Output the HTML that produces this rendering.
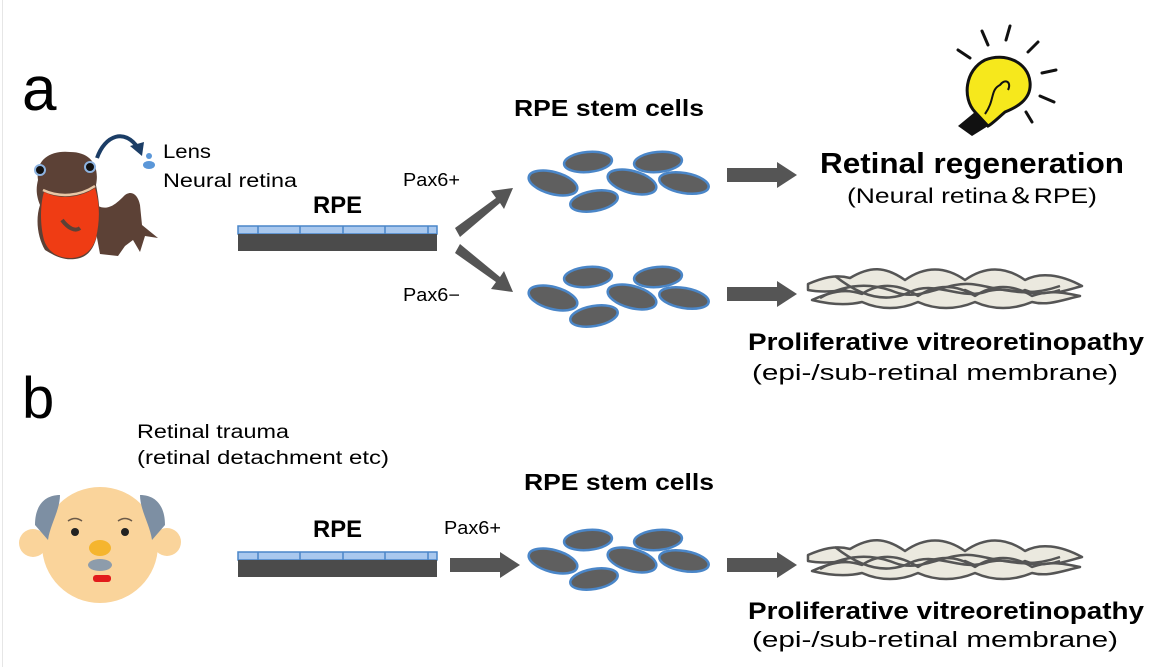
<!DOCTYPE html>
<html><head><meta charset="utf-8"><style>
body{margin:0;background:#fff;}
svg{display:block;font-family:"Liberation Sans","DejaVu Sans",sans-serif;}
</style></head><body>
<svg width="1169" height="667" viewBox="0 0 1169 667" xmlns="http://www.w3.org/2000/svg">
<defs>
<g id="cells" stroke="#4a86c8" stroke-width="2.5" fill="#5f5f5f">
<ellipse cx="588" cy="162" rx="24" ry="10" transform="rotate(-5 588 162)"/>
<ellipse cx="658" cy="162" rx="24" ry="10" transform="rotate(-5 658 162)"/>
<ellipse cx="553" cy="183" rx="25" ry="11" transform="rotate(15 553 183)"/>
<ellipse cx="632" cy="182" rx="25" ry="11" transform="rotate(15 632 182)"/>
<ellipse cx="684" cy="183" rx="25" ry="10" transform="rotate(10 684 183)"/>
<ellipse cx="594" cy="201" rx="24" ry="10" transform="rotate(-10 594 201)"/>
</g>
<g id="rpe">
<rect x="238" y="226" width="199" height="8" fill="#a9c8ee" stroke="#4a86c8" stroke-width="1.5"/>
<rect x="238" y="234" width="199" height="17" fill="#4b4b4b"/>
<g stroke="#4a86c8" stroke-width="1.5"><line x1="258" y1="226" x2="258" y2="234"/><line x1="300" y1="226" x2="300" y2="234"/><line x1="343" y1="226" x2="343" y2="234"/><line x1="385" y1="226" x2="385" y2="234"/><line x1="428" y1="226" x2="428" y2="234"/></g>
</g>
<g id="memb" fill="#ebe9df" stroke="#555" stroke-width="2.5" stroke-linejoin="round">
<path d="M808 284 C822 278 835 274 850 278 C870 266 885 266 905 280 C925 266 945 266 965 280 C985 266 1005 266 1025 280 C1040 272 1060 274 1082 286 C1060 292 1045 298 1025 290 C1005 300 985 300 965 290 C945 300 925 300 905 290 C885 298 865 298 845 290 C830 292 818 292 808 290 Z"/>
<path d="M812 300 C830 292 845 288 862 294 C880 282 900 284 918 296 C936 284 956 284 975 296 C993 284 1013 284 1032 296 C1048 290 1062 292 1080 296 C1062 300 1048 306 1032 302 C1013 310 993 310 975 302 C956 310 936 310 918 302 C900 310 880 310 862 302 C845 306 828 304 812 300 Z"/>
<path d="M835 276 C860 296 885 304 910 292 C935 280 960 300 985 292 C1010 284 1030 300 1060 290" fill="none"/>
<path d="M820 298 C845 284 870 282 895 292 C920 302 945 282 970 284 C995 286 1020 300 1060 286" fill="none"/>
</g>
<g id="arr"><polygon points="0,-7 50,-7 50,-13 70,0 50,13 50,7 0,7" fill="#555"/></g>
</defs>
<rect x="2" y="0" width="1" height="667" fill="#e6e6e6"/>
<!-- a -->
<text x="22" y="110" font-size="62">a</text>
<!-- newt -->
<path d="M90 200 C105 215 115 205 125 195 C132 190 138 195 140 205 L142 225 L158 238 L145 236 L140 252 L133 240 L125 246 L118 256 L100 254 Z" fill="#5c4136"/>
<path d="M38 180 C35 160 50 150 70 152 C90 152 100 165 96 185 C100 205 100 215 98 230 C96 245 90 255 80 258 C65 262 55 256 45 250 C38 238 35 220 40 205 C36 195 36 188 38 180 Z" fill="#5c4136"/>
<path d="M44 192 C60 200 80 198 95 188 C100 205 100 220 96 238 C92 252 82 258 70 258 C58 258 48 252 44 240 C40 225 40 205 44 192 Z" fill="#ef3c14"/>
<path d="M62 220 C68 228 75 232 80 228" fill="none" stroke="#5c4136" stroke-width="4"/>
<path d="M43 190 C60 198 80 196 95 186" fill="none" stroke="#e7c7a6" stroke-width="2.5"/>
<circle cx="40" cy="170" r="5" fill="#111" stroke="#8db3e0" stroke-width="2"/>
<circle cx="90" cy="167" r="5" fill="#111" stroke="#8db3e0" stroke-width="2"/>
<path d="M97 158 C105 135 125 128 138 148" fill="none" stroke="#1b3d66" stroke-width="4"/>
<polygon points="130,146 144,142 142,156" fill="#1b3d66"/>
<circle cx="149" cy="156" r="3" fill="#5b97d8"/>
<ellipse cx="149" cy="165" rx="6" ry="4" fill="#5b97d8"/>
<text x="163" y="158" font-size="19" textLength="48" lengthAdjust="spacingAndGlyphs">Lens</text>
<text x="163" y="187" font-size="19" textLength="134" lengthAdjust="spacingAndGlyphs">Neural retina</text>
<text x="313" y="213" font-size="24" font-weight="bold" textLength="49" lengthAdjust="spacingAndGlyphs">RPE</text>
<use href="#rpe"/>
<text x="403" y="186" font-size="18" textLength="57" lengthAdjust="spacingAndGlyphs">Pax6+</text>
<text x="403" y="301" font-size="18" textLength="57" lengthAdjust="spacingAndGlyphs">Pax6−</text>
<text x="514" y="116" font-size="23" font-weight="bold" textLength="190" lengthAdjust="spacingAndGlyphs">RPE stem cells</text>
<polygon points="455,228 496,198 491,191 513,188 504,209 500,203 460,237" fill="#555"/>
<polygon points="460,244 500,277 504,271 513,292 491,289 496,282 455,253" fill="#555"/>
<use href="#cells"/>
<use href="#cells" transform="translate(0 115)"/>
<use href="#arr" transform="translate(727 175)"/>
<use href="#arr" transform="translate(727 294)"/>
<!-- bulb -->
<g stroke="#111" stroke-width="3" stroke-linecap="round" fill="none">
<line x1="982" y1="31" x2="988" y2="45"/><line x1="1010" y1="26" x2="1006" y2="40"/><line x1="1028" y1="52" x2="1038" y2="42"/><line x1="958" y1="50" x2="970" y2="58"/><line x1="1042" y1="73" x2="1056" y2="70"/><line x1="1040" y1="96" x2="1054" y2="102"/><line x1="1026" y1="112" x2="1032" y2="122"/>
</g>
<path d="M975 112 C962 98 965 70 985 60 C1005 52 1028 62 1030 82 C1032 100 1015 108 1005 112 C998 118 992 124 988 126 Z" fill="#f6e81c" stroke="#111" stroke-width="3"/>
<path d="M975 112 L988 126 L972 136 L958 126 Z" fill="#111"/>
<path d="M985 114 C995 100 990 90 1000 85 C1005 78 1012 82 1008 90" fill="none" stroke="#111" stroke-width="2"/>
<text x="820" y="173" font-size="29" font-weight="bold" textLength="304" lengthAdjust="spacingAndGlyphs">Retinal regeneration</text>
<text x="847" y="203" font-size="21" textLength="250" lengthAdjust="spacingAndGlyphs">(Neural retina＆RPE)</text>
<use href="#memb"/>
<text x="748" y="350" font-size="24" font-weight="bold" textLength="396" lengthAdjust="spacingAndGlyphs">Proliferative vitreoretinopathy</text>
<text x="752" y="380" font-size="22" textLength="366" lengthAdjust="spacingAndGlyphs">(epi-/sub-retinal membrane)</text>
<!-- b -->
<text x="22" y="418" font-size="58">b</text>
<text x="137" y="438" font-size="19" textLength="152" lengthAdjust="spacingAndGlyphs">Retinal trauma</text>
<text x="137" y="464" font-size="19" textLength="252" lengthAdjust="spacingAndGlyphs">(retinal detachment etc)</text>
<circle cx="33" cy="543" r="14" fill="#fad49b"/>
<circle cx="167" cy="542" r="14" fill="#fad49b"/>
<circle cx="100" cy="545" r="58" fill="#fad49b"/>
<path d="M35 525 C35 505 45 495 60 495 C60 510 50 525 48 540 Z" fill="#7d8fa3"/>
<path d="M165 525 C165 505 155 495 140 495 C140 510 150 525 152 540 Z" fill="#7d8fa3"/>
<path d="M68 521 Q75 516 82 521 M118 521 Q125 516 132 521" fill="none" stroke="#6b5a48" stroke-width="1.5"/>
<circle cx="75" cy="532" r="4" fill="#222"/><circle cx="125" cy="532" r="4" fill="#222"/>
<ellipse cx="100" cy="548" rx="11" ry="8" fill="#f5b52e"/>
<ellipse cx="100" cy="565" rx="12" ry="6" fill="#8d9cab"/>
<rect x="93" y="575" width="18" height="7" rx="3" fill="#e21b1b"/>
<text x="313" y="537" font-size="24" font-weight="bold" textLength="49" lengthAdjust="spacingAndGlyphs">RPE</text>
<use href="#rpe" transform="translate(0 326)"/>
<text x="444" y="534" font-size="18" textLength="57" lengthAdjust="spacingAndGlyphs">Pax6+</text>
<text x="524" y="490" font-size="23" font-weight="bold" textLength="190" lengthAdjust="spacingAndGlyphs">RPE stem cells</text>
<use href="#arr" transform="translate(450 565)"/>
<use href="#cells" transform="translate(0 378)"/>
<use href="#arr" transform="translate(727 565)"/>
<use href="#memb" transform="translate(0 271)"/>
<text x="748" y="619" font-size="24" font-weight="bold" textLength="396" lengthAdjust="spacingAndGlyphs">Proliferative vitreoretinopathy</text>
<text x="752" y="647" font-size="22" textLength="366" lengthAdjust="spacingAndGlyphs">(epi-/sub-retinal membrane)</text>
</svg>
</body></html>
